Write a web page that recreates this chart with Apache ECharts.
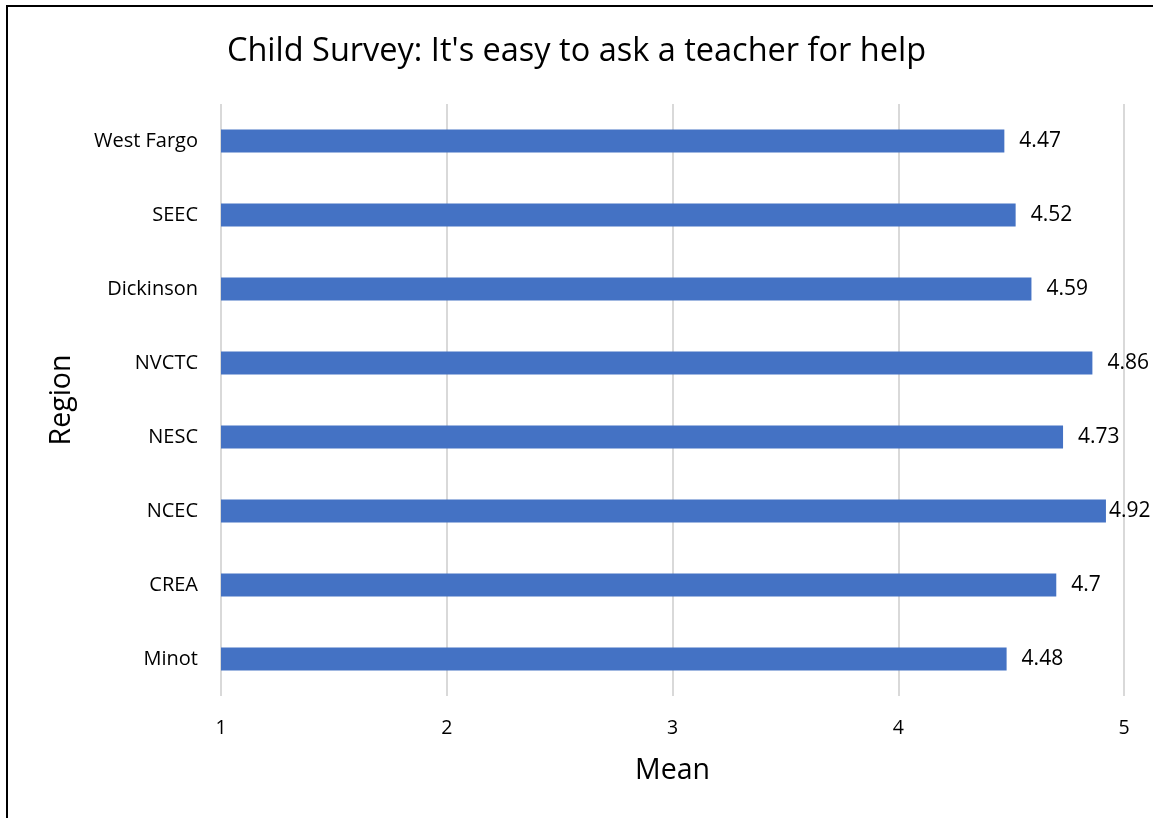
<!DOCTYPE html>
<html>
<head>
<meta charset="utf-8">
<script src="https://cdn.jsdelivr.net/npm/echarts@6/dist/echarts.min.js"></script>
<style>
  html, body { margin: 0; padding: 0; background: #fff; overflow: hidden; }
  #frame {
    position: absolute; left: 6px; top: 5px; width: 1200px; height: 900px;
    border-left: 2px solid #000; border-top: 2px solid #000;
  }
  #chart { position: absolute; left: 0; top: 0; width: 1153px; height: 818px; }
</style>
</head>
<body>
<div id="frame"></div>
<div id="chart"></div>
<script>
// regions, listed top to bottom as they appear
const regions = ['West Fargo', 'SEEC', 'Dickinson', 'NVCTC', 'NESC', 'NCEC', 'CREA', 'Minot'];
const means   = [4.47, 4.52, 4.59, 4.86, 4.73, 4.92, 4.7, 4.48];
const meanTicks = [1, 2, 3, 4, 5];

const font = '"Open Sans", Lato, sans-serif';
const chart = echarts.init(document.getElementById('chart'), null, { renderer: 'canvas' });

// labels too close to the right edge get pulled in so they stay on the canvas
const barData = means.map(v => v > 4.9 ? { value: v, label: { distance: 3 } } : v);

chart.setOption({
    animation: false,
    textStyle: { fontFamily: font },
    title: {
        text: "Child Survey: It's easy to ask a teacher for help",
        left: 'center', top: 30,
        textStyle: { fontFamily: font, fontSize: 32.5, fontWeight: 'normal', color: '#000' },
    },
    grid: { left: 221, right: 29, top: 104, bottom: 122 },
    xAxis: {
        type: 'value',
        min: meanTicks[0], max: meanTicks[meanTicks.length - 1], interval: 1,
        name: 'Mean', nameLocation: 'middle', nameGap: 60,
        nameTextStyle: { fontFamily: font, fontSize: 28.5, color: '#000' },
        axisLine: { show: false },
        axisTick: { show: false },
        axisLabel: { fontFamily: font, fontSize: 19.5, color: '#000', margin: 22 },
        splitLine: { lineStyle: { color: '#d9d9d9', width: 2 } },
    },
    yAxis: {
        type: 'category',
        data: regions,
        inverse: true,
        name: 'Region', nameLocation: 'middle', nameGap: 145, nameRotate: 90,
        nameTextStyle: { fontFamily: font, fontSize: 28.5, color: '#000' },
        axisLine: { show: false },
        axisTick: { show: false },
        axisLabel: { fontFamily: font, fontSize: 20, color: '#000', margin: 23 },
    },
    series: [{
        type: 'bar',
        data: barData,
        barWidth: '31%',
        itemStyle: { color: '#4472C4' },
        label: {
            show: true, position: 'right', distance: 15,
            fontFamily: font, fontSize: 21, color: '#000',
        },
    }],
});
</script>
</body>
</html>
